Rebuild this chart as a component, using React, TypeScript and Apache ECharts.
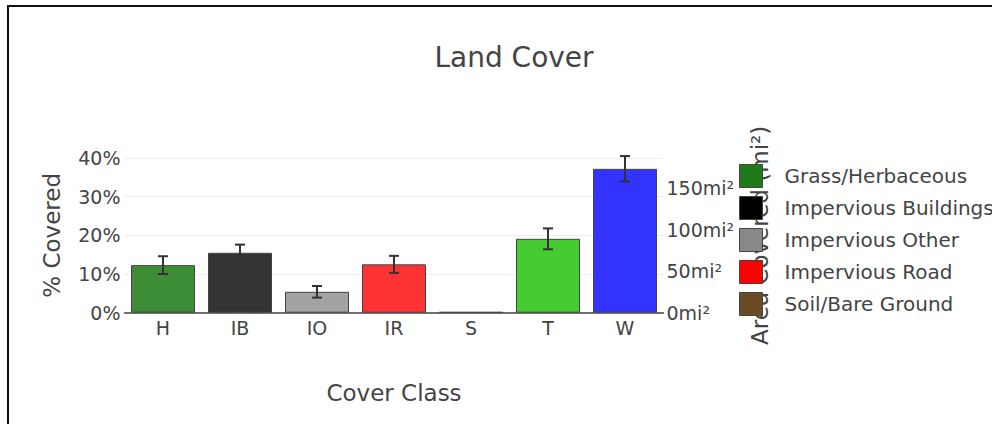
import React, { useEffect, useRef } from "react";
import * as echarts from "echarts";

const categories = ["H", "IB", "IO", "IR", "S", "T", "W"];
const classNames = [
  "Grass/Herbaceous",
  "Impervious Buildings",
  "Impervious Other",
  "Impervious Road",
  "Soil/Bare Ground",
  "Tree",
  "Water",
];
const percentCovered = [12.3, 15.5, 5.4, 12.5, 0.2, 19.1, 37.2];
const errorPlusMinus = [2.3, 2.1, 1.5, 2.2, 0, 2.7, 3.3];
const barColors = ["#3d8c36", "#333333", "#a3a3a3", "#ff3333", "#6b4a26", "#44cc30", "#3333ff"];
const legendColors = ["#1f7a1a", "#000000", "#888888", "#ff0000", "#6b4a26", "#22bb00", "#0000ff"];
const legendShown = 5;
const leftAxis = { min: 0, max: 40, interval: 10 };
const rightAxis = { min: 0, max: 186, interval: 50 };

const FONT = "DejaVu Sans, Verdana, sans-serif";
const TXT = "#444";

export default function App() {
  const ref = useRef<HTMLDivElement>(null);

  useEffect(() => {
    if (!ref.current) return;
    const chart = echarts.init(ref.current, null, { renderer: "svg" });

    const barSeries = classNames.map((name, i) => ({
      type: "bar",
      name,
      xAxisIndex: 0,
      yAxisIndex: 0,
      barWidth: 64,
      barGap: "-100%",
      data: categories.map((_, j) => (j === i ? percentCovered[i] : "-")),
      itemStyle: { color: barColors[i], borderColor: "#444", borderWidth: 1 },
      z: 2,
    }));

    const errorSeries = {
      type: "custom",
      name: "error",
      xAxisIndex: 0,
      yAxisIndex: 0,
      z: 5,
      data: categories.map((_, i) => [i, percentCovered[i], errorPlusMinus[i]]),
      renderItem: (params: any, api: any) => {
        const x = api.value(0);
        const v = api.value(1);
        const e = api.value(2);
        if (!e) return null;
        const top = api.coord([x, v + e]);
        const bot = api.coord([x, v - e]);
        const h = 5;
        const style = { stroke: "#333", lineWidth: 2 };
        return {
          type: "group",
          children: [
            { type: "line", shape: { x1: top[0], y1: top[1], x2: bot[0], y2: bot[1] }, style },
            { type: "line", shape: { x1: top[0] - h, y1: top[1], x2: top[0] + h, y2: top[1] }, style },
            { type: "line", shape: { x1: bot[0] - h, y1: bot[1], x2: bot[0] + h, y2: bot[1] }, style },
          ],
        };
      },
    };

    chart.setOption({
      animation: false,
      textStyle: { fontFamily: FONT },
      title: {
        text: "Land Cover",
        left: 509,
        top: 38,
        textAlign: "center",
        textStyle: { fontFamily: FONT, fontSize: 28, fontWeight: "normal", color: TXT },
      },
      grid: { left: 124.5, right: 328.5, top: 158, bottom: 111.3, containLabel: false },
      legend: {
        orient: "vertical",
        left: 739,
        top: 164,
        padding: 0,
        itemWidth: 23,
        itemHeight: 23,
        itemGap: 8,
        icon: "rect",
        textStyle: { fontFamily: FONT, fontSize: 20, color: TXT, padding: [0, 0, 0, 17] },
        data: classNames.slice(0, legendShown).map((name, i) => ({
          name,
          itemStyle: { color: legendColors[i], borderColor: "#444", borderWidth: 1 },
        })),
      },
      xAxis: {
        type: "category",
        data: categories,
        name: "Cover Class",
        nameLocation: "middle",
        nameGap: 69,
        nameTextStyle: { fontFamily: FONT, fontSize: 23, color: TXT, verticalAlign: "top" },
        axisLine: { show: true, lineStyle: { color: "#444", width: 1.5 } },
        axisTick: { show: false },
        axisLabel: { fontFamily: FONT, fontSize: 19, color: TXT, margin: 6 },
        splitLine: { show: false },
      },
      yAxis: [
        {
          type: "value",
          min: leftAxis.min,
          max: leftAxis.max,
          interval: leftAxis.interval,
          name: "% Covered",
          nameLocation: "middle",
          nameGap: 61,
          nameRotate: 90,
          nameTextStyle: { fontFamily: FONT, fontSize: 23, color: TXT },
          axisLine: { show: false },
          axisTick: { show: false },
          axisLabel: { fontFamily: FONT, fontSize: 19, color: TXT, margin: 4, formatter: (v: number) => v + "%" },
          splitLine: { show: true, lineStyle: { color: "#eeeeee", width: 1 } },
        },
        {
          type: "value",
          position: "right",
          min: rightAxis.min,
          max: rightAxis.max,
          interval: rightAxis.interval,
          name: "Area Covered (mi²)",
          nameLocation: "middle",
          nameGap: 85,
          nameRotate: 90,
          nameTextStyle: { fontFamily: FONT, fontSize: 23, color: TXT },
          axisLine: { show: false },
          axisTick: { show: false },
          axisLabel: {
            fontFamily: FONT,
            fontSize: 19,
            color: TXT,
            margin: 3,
            showMaxLabel: false,
            formatter: (v: number) => v + "mi²",
          },
          splitLine: { show: false },
        },
      ],
      series: [...barSeries, errorSeries],
    });

    return () => chart.dispose();
  }, []);

  return (
    <div
      style={{
        position: "fixed",
        left: 0,
        top: 0,
        width: 992,
        height: 424,
        overflow: "hidden",
        background: "#fff",
      }}
    >
      <div
        style={{
          position: "absolute",
          left: 7,
          top: 5,
          width: 2000,
          height: 2000,
          borderTop: "2px solid #111",
          borderLeft: "2px solid #111",
        }}
      />
      <div ref={ref} style={{ position: "absolute", left: 0, top: 0, width: 992, height: 424 }} />
    </div>
  );
}
